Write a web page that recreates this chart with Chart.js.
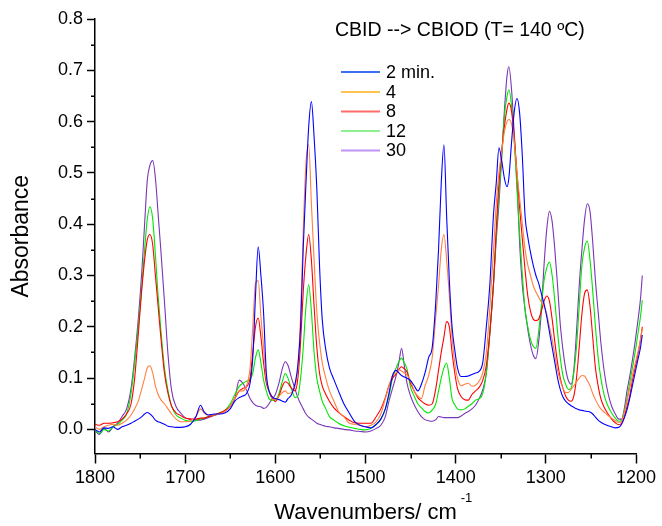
<!DOCTYPE html>
<html><head><meta charset="utf-8">
<script src="https://cdn.jsdelivr.net/npm/chart.js@4.4.1/dist/chart.umd.min.js"></script>
<style>html,body{margin:0;padding:0;background:#fff;}#wrap{width:662px;height:526px;}</style>
</head><body><div id="wrap"><canvas id="c" width="662" height="526"></canvas></div>
<script>
const wavenumbers = [1800,1795,1790,1785,1780,1775,1770,1765,1760,
1756,1752,1748,1745,1742,1739,1736,1733,1730,1727,1723,1719,1715,1710,1705,1700,
1694,1688,1683,1679,1674,1668,1662,1656,1650,1645,1640,1636,1632,1628,1625,1622,1619,1616,1613,1610,1607,1604,1600,
1596,1592,1589,1586,1582,1578,1575,1572,1569,1566,1563,1560,1557,1554,1551,1548,1544,1540,1535,1530,
1524,1518,1512,1506,1500,1494,1488,1483,1478,1474,1470,1466,1463,1460,1457,1454,1450,1446,1442,1438,
1434,1430,1426,1422,1419,1416,1413,1410,1407,1404,1401,1398,1394,1390,1386,1382,1378,1374,1370,1366,
1362,1358,1355,1352,1349,1346,1343,1341,1338,1335,1332,1329,1326,1323,1320,1317,1314,1311,1308,1305,
1302,1299,1296,1293,1290,1287,1284,1281,1278,1275,1272,1269,1266,1263,1260,1257,1254,1251,1248,1245,
1242,1239,1235,1231,1227,1223,1219,1216,1213,1210,1207,1204,1201,1198,1195,1193];

const abs2min = [0.000,-0.005,0.003,0.002,0.005,0.000,0.005,0.008,0.012,
0.016,0.020,0.025,0.030,0.033,0.030,0.025,0.018,0.015,0.013,0.010,0.006,0.005,0.004,0.004,0.005,
0.010,0.025,0.047,0.034,0.028,0.030,0.030,0.032,0.040,0.055,0.062,0.065,0.070,0.090,0.140,0.260,0.356,0.300,0.226,0.110,0.075,0.064,0.060,
0.058,0.055,0.053,0.060,0.068,0.090,0.125,0.200,0.356,0.480,0.590,0.639,0.570,0.470,0.320,0.215,0.155,0.120,0.097,0.075,
0.050,0.032,0.015,0.008,0.005,0.003,0.010,0.020,0.040,0.070,0.105,0.115,0.110,0.105,0.102,0.100,0.095,0.085,0.075,0.088,
0.110,0.140,0.160,0.250,0.350,0.480,0.555,0.415,0.290,0.200,0.155,0.120,0.103,0.103,0.104,0.107,0.110,0.113,0.130,0.200,
0.285,0.420,0.480,0.549,0.525,0.490,0.473,0.490,0.560,0.620,0.645,0.615,0.530,0.415,0.375,0.345,0.320,0.300,0.285,0.265,
0.245,0.220,0.190,0.160,0.130,0.100,0.078,0.063,0.055,0.050,0.046,0.043,0.040,0.038,0.037,0.036,0.035,0.034,0.030,0.024,
0.018,0.014,0.010,0.007,0.005,0.003,0.004,0.010,0.022,0.038,0.060,0.085,0.110,0.135,0.160,0.184];

const abs4min = [0.005,0.000,0.005,0.008,0.010,0.008,0.012,0.018,0.028,
0.040,0.055,0.080,0.100,0.120,0.124,0.110,0.085,0.068,0.058,0.050,0.040,0.030,0.020,0.015,0.015,
0.017,0.025,0.040,0.032,0.028,0.028,0.030,0.035,0.045,0.060,0.075,0.075,0.085,0.120,0.200,0.285,0.290,0.220,0.160,0.100,0.075,0.060,0.058,
0.065,0.072,0.075,0.070,0.072,0.085,0.120,0.220,0.390,0.520,0.555,0.440,0.330,0.230,0.170,0.130,0.100,0.075,0.055,0.035,
0.025,0.012,0.010,0.008,0.005,0.008,0.015,0.030,0.060,0.085,0.105,0.110,0.116,0.114,0.110,0.106,0.095,0.075,0.065,0.060,
0.085,0.105,0.140,0.220,0.280,0.350,0.380,0.330,0.260,0.180,0.130,0.100,0.085,0.088,0.090,0.084,0.086,0.094,0.110,0.150,
0.240,0.350,0.440,0.500,0.540,0.580,0.600,0.604,0.595,0.560,0.500,0.450,0.400,0.350,0.320,0.300,0.280,0.268,0.258,0.248,
0.240,0.225,0.200,0.175,0.145,0.115,0.095,0.080,0.072,0.072,0.078,0.085,0.093,0.100,0.105,0.104,0.095,0.085,0.070,0.058,
0.048,0.040,0.033,0.027,0.022,0.017,0.013,0.016,0.032,0.055,0.080,0.105,0.128,0.150,0.175,0.197];

const abs8min = [0.010,0.008,0.012,0.012,0.013,0.015,0.020,0.030,0.050,
0.100,0.185,0.275,0.330,0.370,0.380,0.360,0.300,0.240,0.180,0.110,0.070,0.045,0.032,0.027,0.022,
0.020,0.020,0.022,0.022,0.025,0.028,0.032,0.037,0.045,0.060,0.075,0.080,0.083,0.100,0.150,0.200,0.217,0.180,0.129,0.090,0.075,0.065,0.054,
0.065,0.085,0.093,0.090,0.080,0.075,0.100,0.170,0.270,0.340,0.380,0.330,0.240,0.160,0.110,0.085,0.068,0.055,0.042,0.033,
0.025,0.018,0.013,0.012,0.012,0.012,0.025,0.040,0.062,0.085,0.100,0.108,0.117,0.122,0.118,0.112,0.090,0.075,0.062,0.055,
0.050,0.047,0.050,0.080,0.115,0.150,0.180,0.210,0.200,0.150,0.110,0.080,0.064,0.058,0.057,0.068,0.075,0.082,0.095,0.125,
0.190,0.285,0.390,0.480,0.540,0.590,0.625,0.636,0.620,0.570,0.500,0.430,0.370,0.310,0.260,0.230,0.215,0.212,0.215,0.230,
0.250,0.260,0.250,0.215,0.170,0.130,0.100,0.080,0.065,0.057,0.055,0.065,0.100,0.160,0.225,0.265,0.272,0.240,0.180,0.120,
0.085,0.060,0.042,0.030,0.020,0.013,0.009,0.012,0.025,0.045,0.065,0.095,0.120,0.145,0.175,0.200];

const abs12min = [0.000,-0.008,0.000,-0.003,0.005,0.010,0.018,0.030,0.070,
0.130,0.200,0.280,0.350,0.410,0.434,0.410,0.340,0.260,0.195,0.120,0.075,0.045,0.028,0.022,0.018,
0.016,0.017,0.020,0.022,0.025,0.028,0.032,0.037,0.050,0.068,0.084,0.090,0.094,0.097,0.110,0.140,0.155,0.130,0.096,0.075,0.060,0.057,0.057,
0.070,0.095,0.109,0.100,0.078,0.062,0.065,0.100,0.160,0.240,0.282,0.230,0.150,0.100,0.075,0.055,0.040,0.025,0.018,0.012,
0.007,0.004,0.002,0.000,-0.001,0.002,0.010,0.020,0.040,0.065,0.100,0.120,0.132,0.139,0.130,0.118,0.082,0.065,0.050,0.042,
0.035,0.032,0.038,0.050,0.075,0.100,0.120,0.129,0.100,0.060,0.048,0.040,0.038,0.040,0.045,0.050,0.057,0.060,0.070,0.110,
0.190,0.285,0.380,0.460,0.530,0.610,0.650,0.662,0.630,0.560,0.470,0.380,0.300,0.233,0.200,0.175,0.162,0.158,0.190,0.240,
0.290,0.315,0.326,0.300,0.250,0.190,0.140,0.105,0.088,0.078,0.080,0.110,0.160,0.240,0.320,0.355,0.367,0.330,0.270,0.200,
0.140,0.100,0.065,0.045,0.032,0.022,0.016,0.018,0.035,0.060,0.090,0.120,0.150,0.185,0.220,0.252];

const abs30min = [-0.002,-0.010,0.002,-0.005,0.005,0.012,0.025,0.040,0.080,
0.140,0.215,0.310,0.400,0.486,0.515,0.524,0.490,0.420,0.350,0.250,0.145,0.075,0.044,0.032,0.023,
0.020,0.018,0.018,0.020,0.023,0.027,0.031,0.036,0.045,0.060,0.096,0.090,0.077,0.060,0.052,0.047,0.045,0.044,0.041,0.043,0.050,0.058,0.068,
0.090,0.120,0.132,0.125,0.100,0.078,0.062,0.050,0.040,0.030,0.024,0.020,0.016,0.012,0.010,0.008,0.006,0.005,0.003,0.002,
0.000,-0.001,-0.003,-0.004,-0.005,-0.003,0.002,0.008,0.025,0.055,0.080,0.105,0.130,0.158,0.125,0.090,0.065,0.048,0.035,0.025,
0.019,0.017,0.016,0.019,0.025,0.024,0.023,0.023,0.023,0.023,0.023,0.023,0.026,0.031,0.035,0.040,0.047,0.060,0.077,0.110,
0.190,0.285,0.370,0.440,0.530,0.620,0.690,0.707,0.662,0.575,0.480,0.360,0.280,0.233,0.195,0.165,0.145,0.138,0.170,0.230,
0.320,0.390,0.425,0.405,0.350,0.280,0.205,0.155,0.118,0.095,0.088,0.115,0.190,0.280,0.350,0.410,0.440,0.425,0.365,0.290,
0.230,0.170,0.110,0.070,0.045,0.030,0.020,0.020,0.040,0.075,0.103,0.135,0.170,0.210,0.255,0.300];

const seriesLabels = ['2 min.', '4', '8', '12', '30'];
const chartTitle = 'CBID --> CBIOD (T= 140 ºC)';
const xTickValues = [1800, 1700, 1600, 1500, 1400, 1300, 1200];
const xMinorValues = [1750, 1650, 1550, 1450, 1350, 1250];
const yTickValues = [0.0, 0.1, 0.2, 0.3, 0.4, 0.5, 0.6, 0.7, 0.8];
const yMinorValues = [0.05, 0.15, 0.25, 0.35, 0.45, 0.55, 0.65, 0.75];

const seriesValues = [abs2min, abs4min, abs8min, abs12min, abs30min];
const lineColors = ['#0000ff', '#ff8040', '#ff0000', '#00e600', '#7a36b8'];
const legendColors = ['#3a6ff0', '#ffc450', '#ff6a6a', '#8ef08e', '#c094f4'];
const FONT = 'Liberation Sans, Arial, sans-serif';

const decor = {
  id: 'decor',
  afterDraw(chart) {
    const ctx = chart.ctx;
    const xs = chart.scales.x, ys = chart.scales.y;
    const a = chart.chartArea;
    ctx.save();
    ctx.strokeStyle = '#000';
    ctx.lineWidth = 1.5;
    ctx.beginPath();
    xMinorValues.forEach(v => {
      const px = Math.round(xs.getPixelForValue(v)) + 0.25;
      ctx.moveTo(px, a.bottom); ctx.lineTo(px, a.bottom + 5);
    });
    yMinorValues.forEach(v => {
      const py = Math.round(ys.getPixelForValue(v)) + 0.25;
      ctx.moveTo(a.left, py); ctx.lineTo(a.left - 4, py);
    });
    ctx.stroke();

    ctx.fillStyle = '#000';
    ctx.font = '19.5px ' + FONT;
    ctx.textAlign = 'left';
    ctx.textBaseline = 'middle';
    ctx.fillText(chartTitle, 335, 30.5);

    const rowsY = [72, 92, 111.5, 131, 150.5];
    ctx.font = '18px ' + FONT;
    seriesLabels.forEach((lab, i) => {
      ctx.strokeStyle = legendColors[i];
      ctx.lineWidth = 2;
      ctx.beginPath();
      ctx.moveTo(341, rowsY[i]); ctx.lineTo(380, rowsY[i]);
      ctx.stroke();
      ctx.fillStyle = '#000';
      ctx.fillText(lab, 386, rowsY[i] + 1);
    });

    ctx.font = '22px ' + FONT;
    const tw = ctx.measureText(xs.options.title.text).width;
    const cx = (a.left + a.right) / 2;
    ctx.font = '13px ' + FONT;
    ctx.fillText('-1', cx + tw / 2 + 4, 498);
    ctx.restore();
  }
};

new Chart(document.getElementById('c'), {
  type: 'line',
  data: {
    datasets: seriesValues.map((vals, i) => ({
      label: seriesLabels[i],
      data: wavenumbers.map((w, j) => ({x: w, y: vals[j]})),
      borderColor: lineColors[i],
      borderWidth: 1.1,
      pointRadius: 0,
      fill: false,
      cubicInterpolationMode: 'monotone',
      clip: false
    }))
  },
  options: {
    responsive: false,
    animation: false,
    layout: {padding: {left: 0, right: 26, top: 19, bottom: 0}},
    plugins: {legend: {display: false}, tooltip: {enabled: false}},
    scales: {
      x: {
        type: 'linear', reverse: true, min: 1200, max: 1800,
        afterBuildTicks: s => { s.ticks = xTickValues.map(v => ({value: v})); },
        afterFit: s => { s.height = 72.5; },
        ticks: {font: {family: FONT, size: 18}, color: '#000', padding: 4, maxRotation: 0, autoSkip: false, callback: v => String(v)},
        grid: {drawOnChartArea: false, drawTicks: true, tickLength: 10, tickColor: '#000', tickWidth: 1.5, color: '#000'},
        border: {display: true, color: '#000', width: 1.5},
        title: {display: true, text: 'Wavenumbers/ cm', color: '#000', font: {family: FONT, size: 22}, padding: {top: 0, bottom: 0}}
      },
      y: {
        type: 'linear', min: -0.047, max: 0.8,
        afterBuildTicks: s => { s.ticks = yTickValues.map(v => ({value: v})); },
        afterFit: s => { s.width = 95; },
        ticks: {font: {family: FONT, size: 18}, color: '#000', padding: 4, callback: v => Number(v).toFixed(1)},
        grid: {drawOnChartArea: false, drawTicks: true, tickLength: 8, tickColor: '#000', tickWidth: 1.5, color: '#000'},
        border: {display: true, color: '#000', width: 1.5},
        title: {display: true, text: 'Absorbance', color: '#000', font: {family: FONT, size: 23}, padding: {top: 8, bottom: 0}}
      }
    }
  },
  plugins: [decor]
});
</script></body></html>
